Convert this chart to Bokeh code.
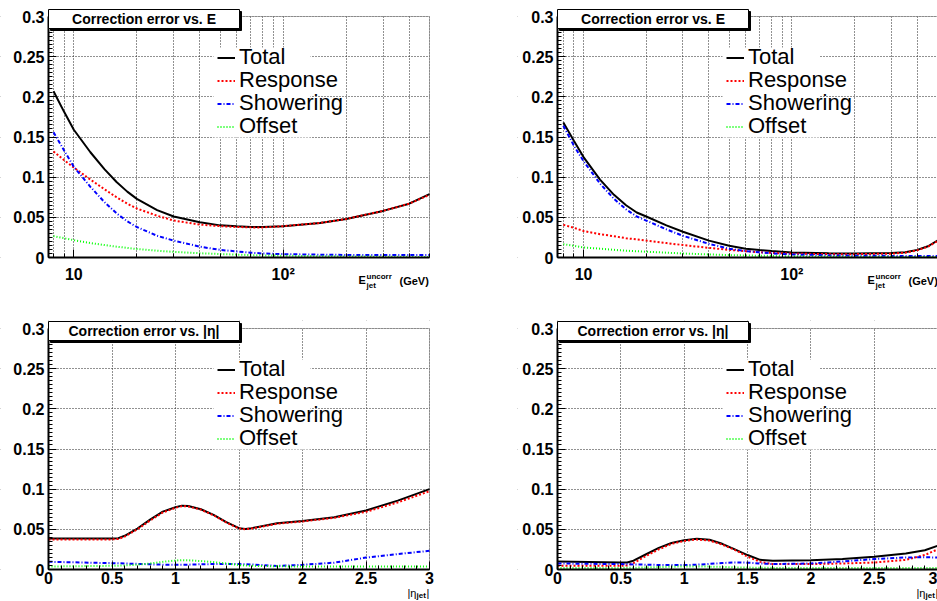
import math
from bokeh.plotting import figure
from bokeh.layouts import column, row
from bokeh.models import (Range1d, FixedTicker, CustomJSTickFormatter, Legend,
                          LegendItem, Label, BoxAnnotation)
from bokeh.embed import file_html
from bokeh.resources import INLINE

# ---------------- data ----------------
# Top-left: correction error vs E (GeV)
e_a = [8, 9, 10, 12, 14, 16, 18, 20, 25, 30, 40, 50, 60, 70, 80, 100, 150, 200, 300, 400, 500]
tot_a = [0.207, 0.181, 0.159, 0.131, 0.110, 0.094, 0.082, 0.073, 0.059, 0.051, 0.044, 0.040,
         0.0388, 0.038, 0.038, 0.039, 0.043, 0.048, 0.058, 0.067, 0.079]
res_a = [0.132, 0.121, 0.112, 0.097, 0.085, 0.075, 0.067, 0.061, 0.052, 0.046, 0.041, 0.039,
         0.038, 0.0375, 0.0375, 0.039, 0.043, 0.048, 0.058, 0.067, 0.078]
sho_a = [0.156, 0.133, 0.113, 0.088, 0.069, 0.055, 0.045, 0.038, 0.027, 0.021, 0.0135, 0.0095,
         0.0075, 0.006, 0.005, 0.0042, 0.0035, 0.0032, 0.003, 0.003, 0.003]
off_a = [0.0266, 0.024, 0.0216, 0.018, 0.0155, 0.0135, 0.012, 0.0105, 0.0085, 0.007, 0.0053,
         0.0043, 0.0036, 0.003, 0.0027, 0.0022, 0.0016, 0.0013, 0.001, 0.0008, 0.0007]

# Top-right: correction error vs E (GeV)
e_b = [8, 9, 10, 12, 14, 16, 18, 20, 25, 30, 40, 50, 60, 70, 80, 100, 150, 200, 300, 350, 400, 450, 500]
tot_b = [0.168, 0.145, 0.125, 0.097, 0.078, 0.065, 0.056, 0.051, 0.040, 0.032, 0.021, 0.0146,
         0.011, 0.0093, 0.0080, 0.0063, 0.0053, 0.005, 0.0055, 0.0066, 0.0095, 0.014, 0.021]
res_b = [0.0407, 0.037, 0.033, 0.029, 0.0265, 0.024, 0.0225, 0.021, 0.018, 0.0155, 0.012, 0.0095,
         0.0078, 0.0066, 0.0058, 0.0048, 0.0042, 0.0042, 0.0048, 0.006, 0.009, 0.0135, 0.0205]
sho_b = [0.164, 0.139, 0.120, 0.092, 0.073, 0.060, 0.051, 0.046, 0.035, 0.027, 0.017, 0.011,
         0.008, 0.0065, 0.0052, 0.0038, 0.0027, 0.0022, 0.002, 0.002, 0.002, 0.002, 0.002]
off_b = [0.0166, 0.0145, 0.0125, 0.011, 0.0095, 0.0085, 0.0078, 0.0072, 0.006, 0.005, 0.0038,
         0.003, 0.0025, 0.0022, 0.002, 0.0015, 0.0012, 0.001, 0.0008, 0.0007, 0.0007, 0.0006, 0.0006]

# Bottom-left: correction error vs |eta|
eta_c = [0, 0.5, 0.55, 0.6, 0.7, 0.8, 0.9, 1.0, 1.05, 1.1, 1.2, 1.3, 1.4, 1.5, 1.55, 1.6,
         1.8, 2.0, 2.25, 2.5, 2.75, 3.0]
tot_c = [0.0387, 0.0387, 0.039, 0.042, 0.051, 0.062, 0.072, 0.0775, 0.0795, 0.079, 0.075, 0.068,
         0.059, 0.0515, 0.0505, 0.0515, 0.0575, 0.0605, 0.065, 0.0735, 0.0857, 0.100]
res_c = [0.0375, 0.0375, 0.038, 0.041, 0.050, 0.061, 0.071, 0.0768, 0.0788, 0.0785, 0.0745,
         0.0675, 0.0585, 0.051, 0.050, 0.051, 0.057, 0.0598, 0.0643, 0.0718, 0.0835, 0.0975]
sho_c = [0.0096, 0.0079, 0.0077, 0.0075, 0.007, 0.0065, 0.006, 0.0058, 0.0058, 0.006, 0.0065,
         0.0068, 0.0068, 0.0067, 0.0065, 0.0062, 0.0045, 0.0058, 0.0085, 0.0148, 0.0192, 0.0233]
off_c = [0.0037, 0.0046, 0.0048, 0.005, 0.006, 0.0075, 0.0095, 0.0112, 0.0117, 0.0115, 0.0105,
         0.0092, 0.0075, 0.0055, 0.005, 0.0046, 0.004, 0.0037, 0.0037, 0.0037, 0.0037, 0.0037]

# Bottom-right: correction error vs |eta|
eta_d = [0, 0.5, 0.55, 0.6, 0.7, 0.8, 0.9, 1.0, 1.1, 1.2, 1.3, 1.4, 1.5, 1.6, 1.7, 2.0, 2.25,
         2.5, 2.75, 2.9, 3.0]
tot_d = [0.010, 0.0088, 0.0088, 0.011, 0.019, 0.027, 0.033, 0.0365, 0.0383, 0.037, 0.032, 0.025,
         0.018, 0.012, 0.0108, 0.0115, 0.013, 0.016, 0.0198, 0.024, 0.0295]
res_d = [0.0046, 0.0046, 0.005, 0.008, 0.017, 0.025, 0.032, 0.0355, 0.0373, 0.036, 0.031, 0.0245,
         0.016, 0.0095, 0.0067, 0.0067, 0.0075, 0.0087, 0.012, 0.018, 0.025]
sho_d = [0.0075, 0.0067, 0.0065, 0.0063, 0.006, 0.0057, 0.0055, 0.0055, 0.006, 0.007, 0.008,
         0.0088, 0.0085, 0.0075, 0.0068, 0.0075, 0.010, 0.013, 0.015, 0.0152, 0.015]
off_d = [0.0017, 0.002, 0.0021, 0.0022, 0.0026, 0.003, 0.0035, 0.0037, 0.0038, 0.0036, 0.0032,
         0.0027, 0.0024, 0.0022, 0.002, 0.002, 0.002, 0.002, 0.002, 0.002, 0.002]

series_names = ["Total", "Response", "Showering", "Offset"]
y_ticks = [0, 0.05, 0.1, 0.15, 0.2, 0.25, 0.3]
y_labels = ["0", "0.05", "0.1", "0.15", "0.2", "0.25", "0.3"]
e_ticks = [10, 100]
e_labels = ["10", "10\u00b2"]
e_minor = [8, 9, 20, 30, 40, 50, 60, 70, 80, 90, 200, 300, 400, 500]
eta_ticks = [0, 0.5, 1, 1.5, 2, 2.5, 3]
eta_labels = ["0", "0.5", "1", "1.5", "2", "2.5", "3"]
title_e = "Correction error vs. E"
title_eta = "Correction error vs. |\u03b7|"

# ---------------- styling ----------------
FONT = "Liberation Sans"
FMT_CODE = """
for (let i = 0; i < vals.length; i++) {
  if (Math.abs(vals[i] - tick) < 1e-9) return labs[i];
}
return '';
"""
VIS_H = 241          # visible plot-area height in px
Y_MAX = 0.3


def fmt(vals, labs):
    return CustomJSTickFormatter(args=dict(vals=vals, labs=labs), code=FMT_CODE)


def label(p, x, y, s, size, bold=True, align="left"):
    p.add_layout(Label(x=x, y=y, x_units="screen", y_units="screen", text=s,
                       text_font=FONT, text_font_size=f"{size}px",
                       text_font_style="bold" if bold else "normal",
                       text_align=align, text_baseline="middle", text_color="black"))


def sbox(p, l, r, t, b, fill, line=None):
    p.add_layout(BoxAnnotation(left=l, right=r, top=t, bottom=b,
                               left_units="screen", right_units="screen",
                               top_units="screen", bottom_units="screen",
                               fill_color=fill, fill_alpha=1,
                               line_color=line, line_alpha=1 if line else 0, line_width=1))


def panel(xs, tot, res, sho, off, kind, x_start, vis_w, L, R, T, B):
    """L, R, T, B: px of canvas left/right/above/below the visible plot area."""
    is_log = kind == "E"
    k = Y_MAX / VIS_H
    x_end = 500 if is_log else 3
    if is_log:
        span = math.log10(x_end) - math.log10(x_start)
        x_lo = 10 ** (math.log10(x_start) - L * span / vis_w)
        x_hi = 10 ** (math.log10(x_end) + R * span / vis_w)
    else:
        span = x_end - x_start
        x_lo = x_start - L * span / vis_w
        x_hi = x_end + R * span / vis_w
    y_lo, y_hi = -B * k, Y_MAX + T * k
    p = figure(frame_width=L + vis_w + R, frame_height=T + VIS_H + B,
               x_axis_type="log" if is_log else "linear",
               x_range=Range1d(x_lo, x_hi), y_range=Range1d(y_lo, y_hi),
               output_backend="svg", toolbar_location=None,
               min_border_left=0, min_border_right=0,
               min_border_top=0, min_border_bottom=0)
    p.background_fill_color = "white"
    p.border_fill_color = "white"
    p.outline_line_color = None

    yt = FixedTicker(ticks=y_ticks, minor_ticks=[round(i * 0.005, 4) for i in range(61)])
    if is_log:
        xt = FixedTicker(ticks=e_ticks, minor_ticks=e_minor)
        xf = fmt(e_ticks, e_labels)
    else:
        xt = FixedTicker(ticks=eta_ticks, minor_ticks=[round(i * 0.1, 2) for i in range(31)])
        xf = fmt(eta_ticks, eta_labels)
    p.xaxis.ticker = xt
    p.xaxis.formatter = xf
    p.xaxis.fixed_location = 0
    p.xaxis.bounds = (x_start, x_end)
    p.yaxis.ticker = yt
    p.yaxis.formatter = fmt(y_ticks, y_labels)
    p.yaxis.fixed_location = x_start
    p.yaxis.bounds = (0, Y_MAX)
    for ax in (p.xaxis[0], p.yaxis[0]):
        ax.axis_line_color = "black"
        ax.axis_line_width = 2
        ax.major_tick_line_color = "black"
        ax.minor_tick_line_color = "black"
        ax.major_tick_in = 8
        ax.major_tick_out = 0
        ax.minor_tick_in = 4
        ax.minor_tick_out = 0
        ax.major_label_text_font = FONT
        ax.major_label_text_font_style = "bold"
        ax.major_label_text_font_size = "16px"
        ax.major_label_text_color = "black"
    p.yaxis.major_label_standoff = 4
    p.xaxis.major_label_standoff = 8 if is_log else 2

    p.xgrid.ticker = xt
    p.ygrid.ticker = yt
    for g in (p.xgrid[0], p.ygrid[0]):
        g.grid_line_color = "#222222"
        g.grid_line_dash = "1 2"
        g.grid_line_width = 1
    if is_log:
        p.xgrid.minor_grid_line_color = "#222222"
        p.xgrid.minor_grid_line_dash = "1 2"
        p.xgrid.minor_grid_line_width = 1

    # white covers that keep the grid inside the plot area
    cover = dict(fill_color="white", fill_alpha=1, line_alpha=0, level="underlay")
    p.add_layout(BoxAnnotation(left=x_lo, right=x_hi, bottom=y_lo, top=0, **cover))
    p.add_layout(BoxAnnotation(left=x_lo, right=x_hi, bottom=Y_MAX, top=y_hi, **cover))
    p.add_layout(BoxAnnotation(left=x_lo, right=x_start, bottom=y_lo, top=y_hi, **cover))
    if R > 0:
        p.add_layout(BoxAnnotation(left=x_end, right=x_hi, bottom=y_lo, top=y_hi, **cover))

    r1 = p.line(xs, tot, line_color="black", line_width=2)
    r2 = p.line(xs, res, line_color="#ff0000", line_width=2, line_dash="2 2")
    r3 = p.line(xs, sho, line_color="#0000ff", line_width=2, line_dash="4 2 1 2")
    r4 = p.line(xs, off, line_color="#00ff00", line_width=2, line_dash="1 2")

    # plot-area frame
    p.add_layout(BoxAnnotation(left=x_start, right=x_end, bottom=0, top=Y_MAX,
                               fill_alpha=0, line_color="black", line_width=1))

    vt = B + VIS_H   # visible top, px above canvas bottom
    # legend: white pad, then one row per entry (23 px pitch)
    sbox(p, L + 165, L + 262, vt - 31, vt - 121, "white")
    for i, (n, r) in enumerate(zip(series_names, [r1, r2, r3, r4])):
        p.add_layout(Legend(items=[LegendItem(label=n, renderers=[r])],
                            location=(L + 169, vt - 54 - 23 * i), padding=0, spacing=0,
                            margin=0, glyph_width=18, glyph_height=23, label_height=23,
                            label_standoff=4, label_text_font=FONT,
                            label_text_font_size="22px", label_text_color="black",
                            background_fill_alpha=0, border_line_alpha=0))

    # title box with shadow
    sbox(p, L + 2, L + 193, vt + 5, vt - 14, "black", "black")
    sbox(p, L, L + 191, vt + 7, vt - 12, "white", "black")
    label(p, L + 95.5, vt - 2.5, title_e if is_log else title_eta, 14, align="center")

    # axis titles
    if is_log:
        label(p, L + 310, B - 22, "E", 11)
        label(p, L + 318, B - 27.5, "jet", 8)
        label(p, L + 318, B - 18.5, "uncorr", 8)
        label(p, L + 351, B - 23.5, "(GeV)", 11)
    else:
        label(p, L + 359, B - 23, "|\u03b7", 11, bold=False)
        label(p, L + 368, B - 26, "jet", 8)
        label(p, L + 378, B - 23, "|", 11, bold=False)
    return p


p1 = panel(e_a, tot_a, res_a, sho_a, off_a, "E", 7.57, 381, 48, 88, 16, 63)
p2 = panel(e_b, tot_b, res_b, sho_b, off_b, "E", 7.5, 380, 40, 0, 16, 63)
p3 = panel(eta_c, tot_c, res_c, sho_c, off_c, "eta", 0, 381, 48, 88, 8, 31)
p4 = panel(eta_d, tot_d, res_d, sho_d, off_d, "eta", 0, 380, 40, 0, 8, 31)

layout = column(row(p1, p2), row(p3, p4))
open("out.html", "w").write(file_html(layout, INLINE))
